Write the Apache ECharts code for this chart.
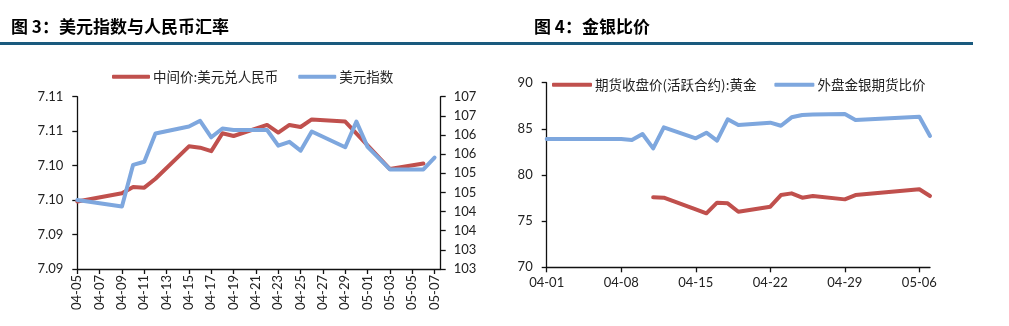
<!DOCTYPE html>
<html>
<head>
<meta charset="utf-8">
<script src="https://cdn.jsdelivr.net/npm/echarts@6/dist/echarts.min.js"></script>
<style>
html,body{margin:0;padding:0;background:#fff;}
#c{width:1009px;height:326px;}
</style>
</head>
<body>
<div id="c"></div>
<script>
// ---------- Chart 3 data (day index from 04-05) ----------
const datesL = ['04-05','04-06','04-07','04-08','04-09','04-10','04-11','04-12','04-13','04-14','04-15','04-16','04-17','04-18','04-19','04-20','04-21','04-22','04-23','04-24','04-25','04-26','04-27','04-28','04-29','04-30','05-01','05-02','05-03','05-04','05-05','05-06','05-07'];
const cnyDays = ['04-05','04-09','04-10','04-11','04-12','04-15','04-16','04-17','04-18','04-19','04-22','04-23','04-24','04-25','04-26','04-29','05-03','05-06'];
const cnyVals = [7.0948,7.0960,7.0969,7.0968,7.0981,7.1028,7.1026,7.1021,7.1047,7.1043,7.1059,7.1048,7.1059,7.1056,7.1067,7.1064,7.0995,7.1003];
const dxyDays = ['04-05','04-09','04-10','04-11','04-12','04-15','04-16','04-17','04-18','04-19','04-22','04-23','04-24','04-25','04-26','04-29','04-30','05-01','05-03','05-06','05-07'];
const dxyVals = [104.30,104.13,105.22,105.30,106.04,106.22,106.37,105.94,106.17,106.13,106.13,105.72,105.82,105.59,106.09,105.68,106.35,105.69,105.10,105.10,105.41];
const nameCny = '中间价:美元兑人民币';
const nameDxy = '美元指数';

// ---------- Chart 4 data (day index from 04-01) ----------
const datesR = ['04-01','04-02','04-03','04-04','04-05','04-06','04-07','04-08','04-09','04-10','04-11','04-12','04-13','04-14','04-15','04-16','04-17','04-18','04-19','04-20','04-21','04-22','04-23','04-24','04-25','04-26','04-27','04-28','04-29','04-30','05-01','05-02','05-03','05-04','05-05','05-06','05-07'];
const goldDays = ['04-11','04-12','04-15','04-16','04-17','04-18','04-19','04-22','04-23','04-24','04-25','04-26','04-29','04-30','05-06','05-07'];
const goldVals = [77.58,77.54,76.28,75.85,77.00,76.93,76.02,76.57,77.83,78.01,77.54,77.72,77.36,77.83,78.45,77.72];
const ratioDays = ['04-01','04-02','04-03','04-08','04-09','04-10','04-11','04-12','04-15','04-16','04-17','04-18','04-19','04-22','04-23','04-24','04-25','04-26','04-29','04-30','05-06','05-07'];
const ratioVals = [83.90,83.90,83.90,83.90,83.79,84.44,82.89,85.17,83.97,84.58,83.72,86.03,85.42,85.67,85.34,86.25,86.50,86.55,86.61,85.96,86.32,84.23];
const nameGold = '期货收盘价(活跃合约):黄金';
const nameRatio = '外盘金银期货比价';

const titleL = '图 3：美元指数与人民币汇率';
const titleR = '图 4：金银比价';

function pairs(days, vals, dates){ return days.map((d,i)=>[dates.indexOf(d), vals[i]]); }

const RED = '#C0504D', BLUE = '#7EA7DE', AX = '#111', TXT = '#222';
const latin = 'Lato, "Noto Sans CJK SC", sans-serif';
const cjk = '"Noto Sans CJK SC", sans-serif';

const chart = echarts.init(document.getElementById('c'));
const axisCommon = {
  axisLine:{show:true,lineStyle:{color:AX,width:1.3}},
  axisTick:{show:true,inside:false,length:5,lineStyle:{color:AX,width:1.3}},
  splitLine:{show:false}
};
chart.setOption({
  animation:false,
  textStyle:{fontFamily:latin},
  graphic:[
    {type:'rect',shape:{x:0,y:42,width:973,height:3},style:{fill:'#1A5A7E'},silent:true},
    {type:'text',left:11,top:18,style:{text:titleL,font:'bold 17px "Noto Sans CJK SC", sans-serif',fill:'#000'}},
    {type:'text',left:534,top:18,style:{text:titleR,font:'bold 17px "Noto Sans CJK SC", sans-serif',fill:'#000'}}
  ],
  legend:[
    {left:107,top:65,itemWidth:38,itemHeight:4,itemGap:20,icon:'roundRect',
     textStyle:{fontFamily:cjk,fontSize:13.5,color:TXT,padding:[0,0,0,-2]},
     data:[nameCny,nameDxy]},
    {left:547,top:73,itemWidth:40,itemHeight:4,itemGap:18,icon:'roundRect',
     textStyle:{fontFamily:cjk,fontSize:13.5,color:TXT,padding:[0,0,0,-2]},
     data:[nameGold,nameRatio]}
  ],
  grid:[
    {left:77.3,top:96.7,width:363.4,height:172.3},
    {left:546.7,top:82.7,width:383.3,height:184.6}
  ],
  xAxis:[
    Object.assign({},axisCommon,{type:'value',gridIndex:0,min:0,max:32.55,interval:2,
      axisLabel:{rotate:90,fontSize:13,color:TXT,margin:6,showMaxLabel:false,
        formatter:v=>datesL[Math.round(v)]||''}}),
    Object.assign({},axisCommon,{type:'value',gridIndex:1,min:0,max:36,interval:7,
      axisLabel:{fontSize:13,color:TXT,margin:9,formatter:v=>datesR[Math.round(v)]||''}})
  ],
  yAxis:[
    Object.assign({},axisCommon,{type:'value',gridIndex:0,min:7.085,max:7.110,interval:0.005,position:'left',
      axisLabel:{fontSize:13,color:TXT,margin:14,formatter:v=>(Math.round(v*100+1e-6)/100).toFixed(2)}}),
    Object.assign({},axisCommon,{type:'value',gridIndex:0,min:102.5,max:107,interval:0.5,position:'right',
      axisLabel:{fontSize:13,color:TXT,margin:13,formatter:v=>String(Math.round(v+1e-9))}}),
    Object.assign({},axisCommon,{type:'value',gridIndex:1,min:70,max:90,interval:5,
      axisLabel:{fontSize:13,color:TXT,margin:14}})
  ],
  series:[
    {name:nameCny,type:'line',xAxisIndex:0,yAxisIndex:0,data:pairs(cnyDays,cnyVals,datesL),
     showSymbol:false,symbol:'none',color:RED,lineStyle:{width:4,color:RED,cap:'round',join:'round'}},
    {name:nameDxy,type:'line',xAxisIndex:0,yAxisIndex:1,data:pairs(dxyDays,dxyVals,datesL),
     showSymbol:false,symbol:'none',color:BLUE,lineStyle:{width:4,color:BLUE,cap:'round',join:'round'}},
    {name:nameGold,type:'line',xAxisIndex:1,yAxisIndex:2,data:pairs(goldDays,goldVals,datesR),
     showSymbol:false,symbol:'none',color:RED,lineStyle:{width:4,color:RED,cap:'round',join:'round'}},
    {name:nameRatio,type:'line',xAxisIndex:1,yAxisIndex:2,data:pairs(ratioDays,ratioVals,datesR),
     showSymbol:false,symbol:'none',color:BLUE,lineStyle:{width:4,color:BLUE,cap:'round',join:'round'}}
  ]
});
</script>
</body>
</html>
